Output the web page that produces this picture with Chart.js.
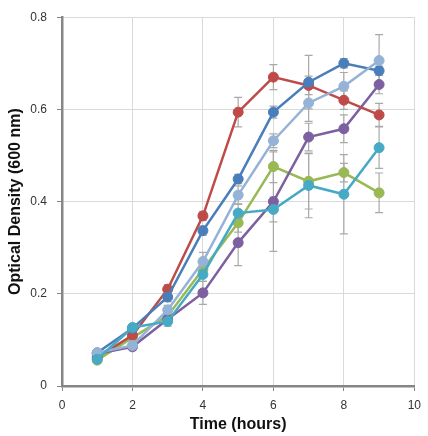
<!DOCTYPE html>
<html>
<head>
<meta charset="utf-8">
<script src="https://cdn.jsdelivr.net/npm/chart.js@4/dist/chart.umd.min.js"></script>
<style>
  html, body { margin: 0; padding: 0; background: #fff; }
  #wrap { width: 428px; height: 436px; }
</style>
</head>
<body>
<div id="wrap"><canvas id="growth-chart" width="428" height="436"></canvas></div>
<script>
// Time points (hours)
const hours = [1, 2, 3, 4, 5, 6, 7, 8, 9];
const xTicks = [0, 2, 4, 6, 8, 10];
const yTicks = [0, 0.2, 0.4, 0.6, 0.8];

// OD600 readings per culture
const blueOD = [0.072, 0.125, 0.193, 0.337, 0.449, 0.594, 0.659, 0.700, 0.684];
const redOD = [0.062, 0.110, 0.210, 0.369, 0.594, 0.670, 0.652, 0.620, 0.588];
const greenOD = [0.056, 0.105, 0.152, 0.253, 0.354, 0.476, 0.444, 0.463, 0.419];
const purpleOD = [0.070, 0.085, 0.145, 0.202, 0.311, 0.400, 0.540, 0.558, 0.654];
const tealOD = [0.058, 0.127, 0.140, 0.242, 0.375, 0.383, 0.435, 0.416, 0.517];
const lightBlueOD = [0.072, 0.088, 0.165, 0.270, 0.414, 0.532, 0.614, 0.650, 0.706];

// Error (+/-) for each reading
const blueErr = [0.005, 0.005, 0.010, 0.010, 0.010, 0.013, 0.058, 0.010, 0.010];
const redErr = [0.005, 0.005, 0.010, 0.010, 0.032, 0.027, 0.020, 0.020, 0.025];
const greenErr = [0.005, 0.005, 0.010, 0.015, 0.020, 0.035, 0.060, 0.020, 0.043];
const purpleErr = [0.005, 0.005, 0.010, 0.025, 0.050, 0.108, 0.030, 0.030, 0.020];
const tealErr = [0.005, 0.005, 0.010, 0.015, 0.020, 0.027, 0.070, 0.086, 0.045];
const lightBlueErr = [0.005, 0.005, 0.010, 0.020, 0.020, 0.015, 0.040, 0.030, 0.056];

function series(label, values, errors, color) {
    return {
        label: label,
        data: hours.map((h, i) => ({ x: h, y: values[i] })),
        errors: errors,
        borderColor: color,
        backgroundColor: color,
        borderWidth: 2.5,
        pointRadius: 5,
        pointBorderWidth: 1,
        pointHoverRadius: 5,
        tension: 0
    };
}

// draw the error bars under the lines
const errorBars = {
    id: 'errorBars',
    beforeDatasetsDraw(chart) {
        const ctx = chart.ctx;
        const xs = chart.scales.x, ys = chart.scales.y;
        ctx.save();
        ctx.strokeStyle = '#a9a9a9';
        ctx.lineWidth = 1.2;
        chart.data.datasets.forEach(ds => {
            ds.data.forEach((p, i) => {
                const e = ds.errors[i];
                const px = xs.getPixelForValue(p.x);
                const top = ys.getPixelForValue(p.y + e);
                const bot = ys.getPixelForValue(p.y - e);
                ctx.beginPath();
                ctx.moveTo(px, top); ctx.lineTo(px, bot);
                ctx.moveTo(px - 4, top); ctx.lineTo(px + 4, top);
                ctx.moveTo(px - 4, bot); ctx.lineTo(px + 4, bot);
                ctx.stroke();
            });
        });
        ctx.restore();
    }
};

const axisColor = '#868686';
const gridColor = '#d9d9d9';
const tickFont = { family: 'Liberation Sans, Arial, sans-serif', size: 12 };
const titleFont = { family: 'Liberation Sans, Arial, sans-serif', size: 16, weight: 'bold' };

new Chart(document.getElementById('growth-chart'), {
    type: 'line',
    data: {
        datasets: [
            series('Teal', tealOD, tealErr, '#46aac5'),
            series('Light blue', lightBlueOD, lightBlueErr, '#95b3d7'),
            series('Blue', blueOD, blueErr, '#4a7ebb'),
            series('Red', redOD, redErr, '#be4b48'),
            series('Purple', purpleOD, purpleErr, '#7d60a0'),
            series('Green', greenOD, greenErr, '#98b954')
        ]
    },
    options: {
        responsive: false,
        animation: false,
        layout: { padding: { top: 13, right: 10, bottom: 0, left: 0 } },
        plugins: {
            legend: { display: false },
            tooltip: { enabled: false }
        },
        scales: {
            x: {
                type: 'linear',
                min: 0,
                max: 10,
                afterBuildTicks: s => { s.ticks = xTicks.map(v => ({ value: v })); },
                afterFit: s => { s.height = 50; },
                grid: { color: gridColor, tickColor: axisColor, tickLength: 5, lineWidth: 1 },
                border: { color: axisColor, width: 2.5 },
                ticks: { font: tickFont, color: '#333', padding: 7, maxRotation: 0 },
                title: { display: true, text: 'Time (hours)', font: titleFont, color: '#111', padding: { top: 0, bottom: 2 } }
            },
            y: {
                min: 0,
                max: 0.8,
                afterBuildTicks: s => { s.ticks = yTicks.map(v => ({ value: v })); },
                afterFit: s => { s.width = 62; },
                grid: { color: gridColor, tickColor: axisColor, tickLength: 5, lineWidth: 1 },
                border: { color: axisColor, width: 2.5 },
                ticks: { font: tickFont, color: '#333', padding: 10 },
                title: { display: true, text: 'Optical Density (600 nm)', font: titleFont, color: '#111', padding: { top: 6, bottom: 0 } }
            }
        }
    },
    plugins: [errorBars]
});
</script>
</body>
</html>
